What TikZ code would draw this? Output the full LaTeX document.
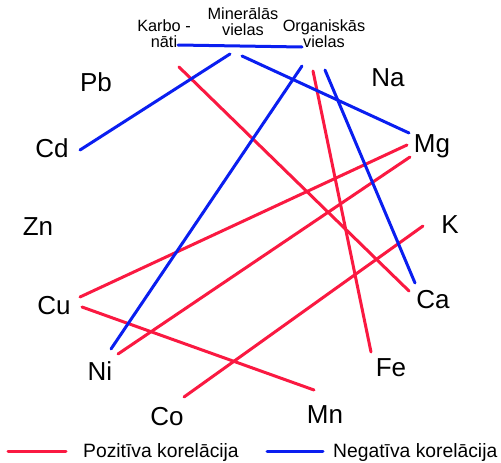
\documentclass[tikz,border=0pt]{standalone}
\usepackage{fontspec}
\setmainfont{Liberation Sans}
\usetikzlibrary{positioning}
\definecolor{poscol}{RGB}{250,25,65}
\definecolor{negcol}{RGB}{10,30,240}

\begin{document}
\begin{tikzpicture}[x=1pt, y=-1pt,
    elem/.style={anchor=base, inner sep=0pt, font=\fontsize{26}{30}\selectfont},
    group/.style={anchor=north, inner sep=0pt, align=center, font=\fontsize{16.3}{16.3}\selectfont},
    poscor/.style={draw=poscol, line width=3pt, line cap=round},
    negcor/.style={draw=negcol, line width=3pt, line cap=round},
    legend/.style={anchor=base west, inner sep=0pt, font=\fontsize{19.3}{22}\selectfont}]
    \useasboundingbox (0,0) rectangle (501,463);

    % groups at the top
    \node[group] (karbo) at (164,19) {Karbo -\\nāti};
    \node[group] (miner) at (243,7) {Minerālās\\vielas};
    \node[group] (organ) at (324,19) {Organiskās\\vielas};
    \coordinate (barL) at (178,45);
    \coordinate (barR) at (302,47);
    \draw[negcor] (barL) -- (barR);

    % elements
    \node[elem] (pb) at (96,91) {Pb};
    \node[elem] (cd) at (52,157) {Cd};
    \node[elem] (zn) at (38,235) {Zn};
    \node[elem] (cu) at (54,314) {Cu};
    \node[elem] (ni) at (100,380) {Ni};
    \node[elem] (co) at (167,425) {Co};
    \node[elem] (mn) at (325,423) {Mn};
    \node[elem] (fe) at (391,376) {Fe};
    \node[elem] (ca) at (433,308) {Ca};
    \node[elem] (k) at (450,233) {K};
    \node[elem] (mg) at (432,152) {Mg};
    \node[elem] (na) at (388,86) {Na};

    % line ends
    \coordinate (karbo-a) at (179,67);
    \coordinate (miner-a) at (230,54);
    \coordinate (miner-b) at (242,56);
    \coordinate (organ-a) at (302,66);
    \coordinate (organ-b) at (313,71);
    \coordinate (organ-c) at (325,70);
    \coordinate (cd-a) at (80,150);
    \coordinate (cu-a) at (80,297);
    \coordinate (cu-b) at (82,307);
    \coordinate (ni-a) at (111,349);
    \coordinate (ni-b) at (118,354);
    \coordinate (co-a) at (184,397);
    \coordinate (mn-a) at (314,390);
    \coordinate (fe-a) at (371,352);
    \coordinate (ca-a) at (409,291);
    \coordinate (ca-b) at (415,283);
    \coordinate (k-a) at (423,226);
    \coordinate (mg-a) at (409,133);
    \coordinate (mg-b) at (407,145);
    \coordinate (mg-c) at (410,157);

    % positive
    \draw[poscor] (karbo-a) -- (ca-a);
    \draw[poscor] (organ-b) -- (fe-a);
    \draw[poscor] (cu-a) -- (mg-b);
    \draw[poscor] (ni-b) -- (mg-c);
    \draw[poscor] (cu-b) -- (mn-a);
    \draw[poscor] (co-a) -- (k-a);
    % negative
    \draw[negcor] (miner-a) -- (cd-a);
    \draw[negcor] (miner-b) -- (mg-a);
    \draw[negcor] (organ-a) -- (ni-a);
    \draw[negcor] (organ-c) -- (ca-b);

    % legend
    \coordinate (lp1) at (8,451);
    \coordinate (lp2) at (66,451);
    \coordinate (ln1) at (267,451);
    \coordinate (ln2) at (323,451);
    \draw[poscor] (lp1) -- (lp2);
    \draw[negcor] (ln1) -- (ln2);
    \node[legend] (posl) at (83,457) {Pozitīva korelācija};
    \node[legend] (negl) at (333,457) {Negatīva korelācija};
\end{tikzpicture}
\end{document}
